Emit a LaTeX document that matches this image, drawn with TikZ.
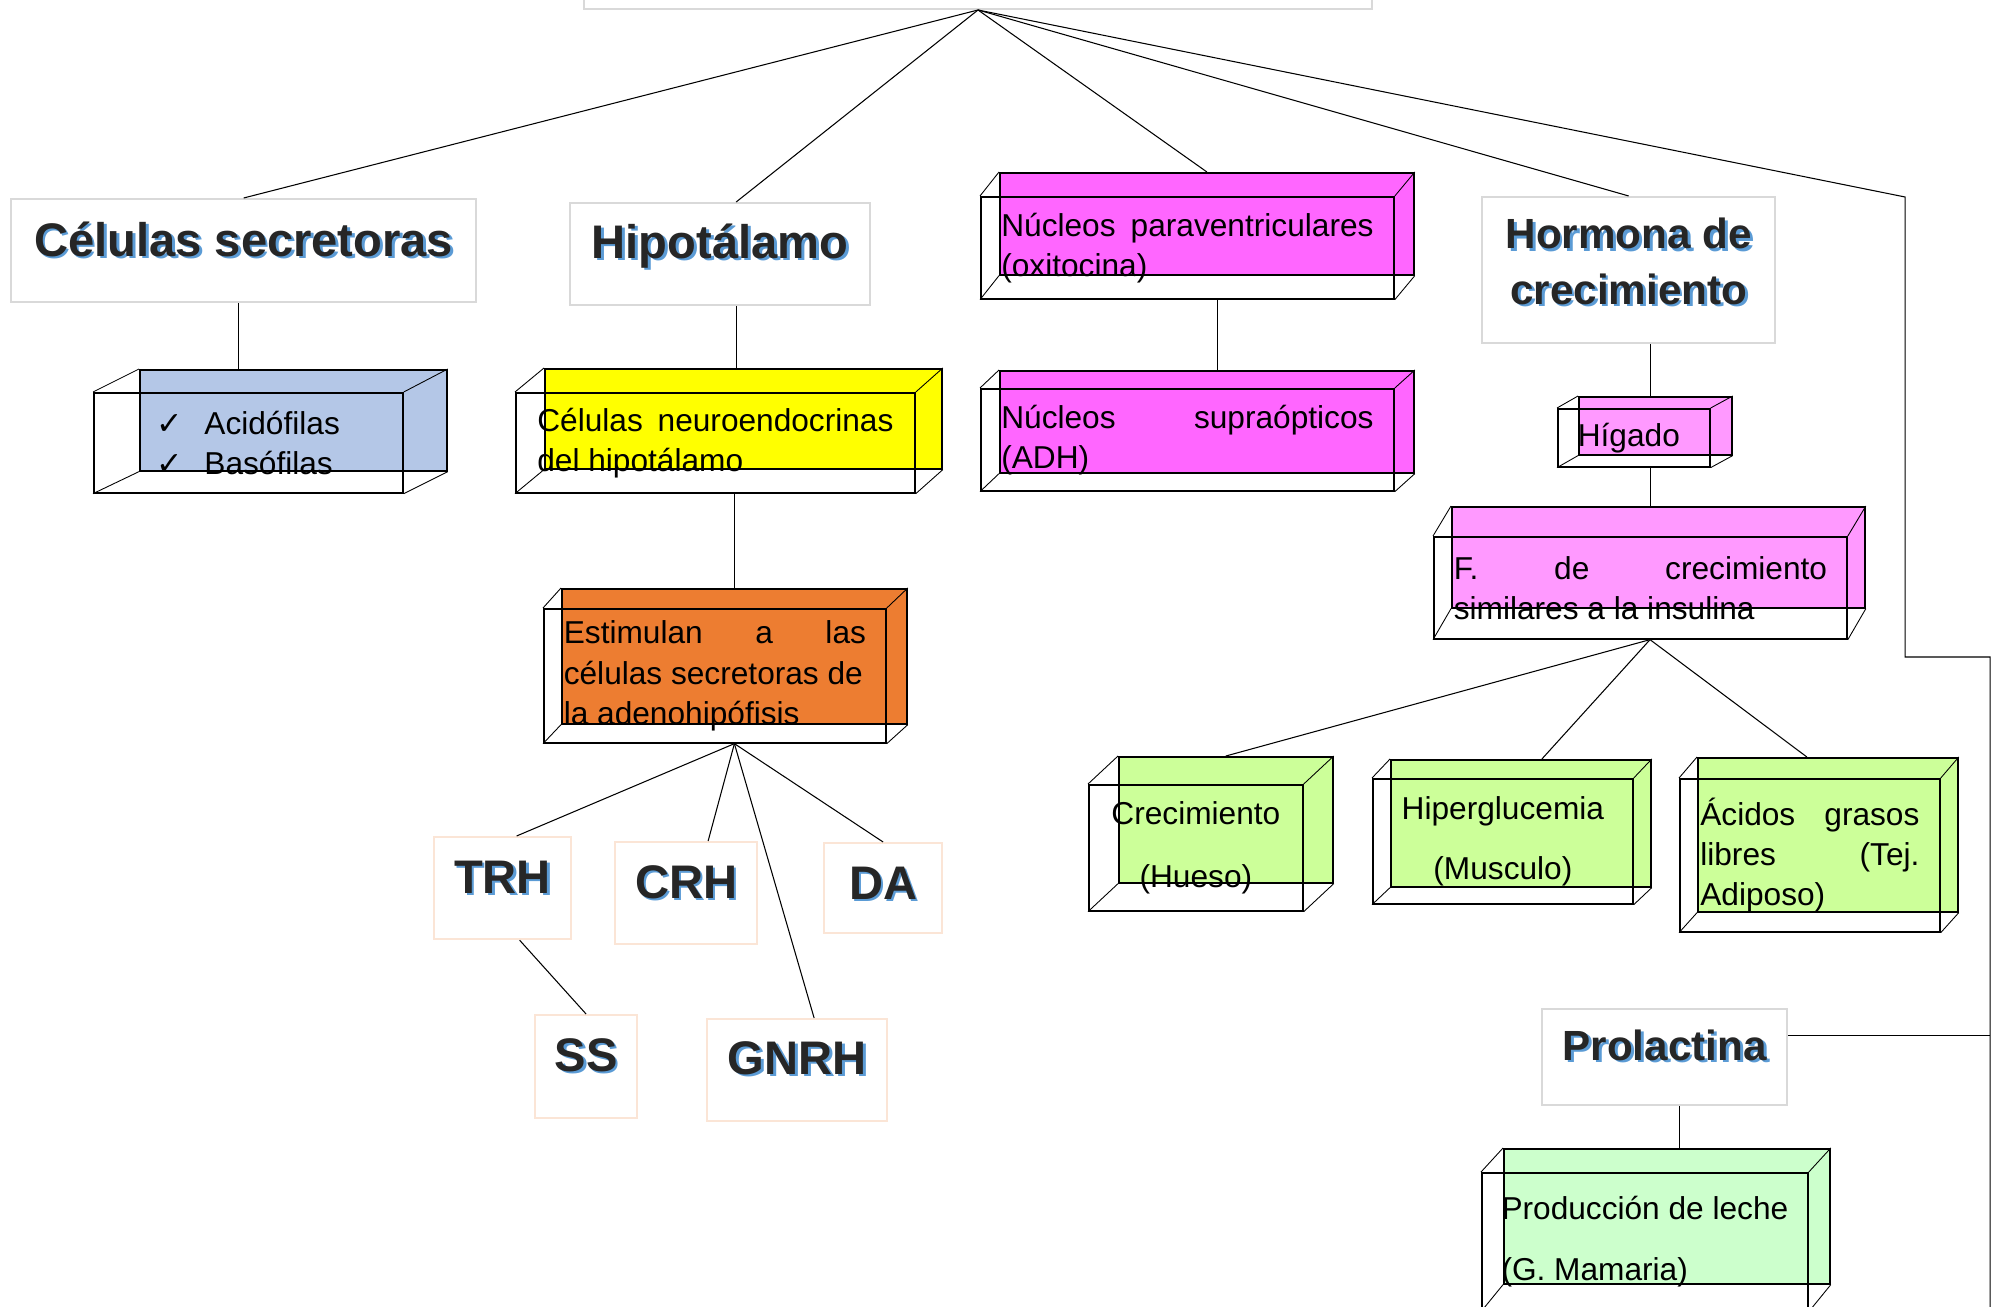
\documentclass[tikz,border=0pt]{standalone}
\usepackage{fontspec}
\setmainfont{Liberation Sans}
\newfontfamily\simbolos{DejaVu Sans}

\definecolor{azul}{HTML}{B4C7E7}
\definecolor{amarillo}{HTML}{FFFF00}
\definecolor{naranja}{HTML}{ED7D31}
\definecolor{magenta}{HTML}{FF66FF}
\definecolor{rosa}{HTML}{FF99FF}
\definecolor{verde}{HTML}{CCFF99}
\definecolor{verdeclaro}{HTML}{CCFFCC}
\definecolor{bordegris}{HTML}{D9D9D9}
\definecolor{bordesalmon}{HTML}{FBE5D6}
\definecolor{sombra}{HTML}{5B9BD5}
\definecolor{tinta}{HTML}{262626}

\newcommand\sombra[1]{\rlap{\kern0.8pt\raisebox{-0.8pt}{\color{sombra}#1}}#1}
\newcommand\tic{\makebox[1.5em][l]{\simbolos\small ✓}}

\begin{document}
\begin{tikzpicture}[x=0.01cm, y=-0.01cm,
    cara/.style={draw, line width=0.45pt, inner sep=0pt, anchor=north west},
    frente/.style={draw, line width=0.45pt, inner sep=0pt, anchor=north west, align=justify, font=\fontsize{9}{11.4}\selectfont},
    arista/.style={line width=0.25pt},
    enlace/.style={line width=0.3pt},
    titulo/.style={draw=bordegris, line width=0.6pt, inner sep=0pt, anchor=north west, text=tinta, font=\fontsize{13.4}{16}\selectfont\bfseries},
    titulomed/.style={titulo, font=\fontsize{12}{15.9}\selectfont\bfseries},
    hormona/.style={titulo, draw=bordesalmon}]
    \useasboundingbox (0,0) rectangle (1998,1307);

    % caja superior (cortada por el borde)
    \node[draw=bordegris, line width=0.6pt, anchor=south, minimum width=7.88cm, minimum height=0.8cm] (raiz) at (978,10) {};

    % titulos
    \node[titulo, minimum width=4.65cm, text height=0.57cm, text depth=0.46cm] (cs) at (10,198) {\sombra{Células secretoras}};
    \node[titulo, minimum width=3.00cm, text height=0.55cm, text depth=0.47cm] (hip) at (569,202) {\sombra{Hipotálamo}};
    \node[titulomed, minimum width=2.93cm, text height=1.07cm, text depth=0.39cm, align=center] (hc) at (1481,196) {\sombra{Hormona de}\\\sombra{crecimiento}};
    \node[titulomed, minimum width=2.45cm, text height=0.51cm, text depth=0.45cm] (pro) at (1541,1008) {\sombra{Prolactina}};

    % hormonas
    \node[hormona, minimum width=1.37cm, text height=0.56cm, text depth=0.46cm] (trh) at (433,836) {\sombra{TRH}};
    \node[hormona, minimum width=1.42cm, text height=0.56cm, text depth=0.46cm] (crh) at (614,841) {\sombra{CRH}};
    \node[hormona, minimum width=1.18cm, text height=0.56cm, text depth=0.34cm] (da) at (823,842) {\sombra{DA}};
    \node[hormona, minimum width=1.02cm, text height=0.56cm, text depth=0.47cm] (ss) at (534,1014) {\sombra{SS}};
    \node[hormona, minimum width=1.80cm, text height=0.55cm, text depth=0.47cm] (gnrh) at (706,1018) {\sombra{GNRH}};

    % caras traseras
    \node[cara, fill=azul, minimum width=3.07cm, minimum height=1.01cm] (acB) at (139,369) {};
    \node[cara, fill=amarillo, minimum width=3.97cm, minimum height=1.00cm] (neB) at (544,368) {};
    \node[cara, fill=naranja, minimum width=3.45cm, minimum height=1.35cm] (esB) at (561,588) {};
    \node[cara, fill=magenta, minimum width=4.14cm, minimum height=1.02cm] (npB) at (999,172) {};
    \node[cara, fill=magenta, minimum width=4.14cm, minimum height=1.02cm] (nsB) at (999,370) {};
    \node[cara, fill=rosa, minimum width=1.53cm, minimum height=0.58cm] (hiB) at (1578,396) {};
    \node[cara, fill=rosa, minimum width=4.13cm, minimum height=1.01cm] (fcB) at (1451,506) {};
    \node[cara, fill=verde, minimum width=2.14cm, minimum height=1.26cm] (crB) at (1118,756) {};
    \node[cara, fill=verde, minimum width=2.60cm, minimum height=1.27cm] (hgB) at (1390,759) {};
    \node[cara, fill=verde, minimum width=2.60cm, minimum height=1.54cm] (agB) at (1697,757) {};
    \node[cara, fill=verdeclaro, minimum width=3.26cm, minimum height=1.35cm] (plB) at (1503,1148) {};

    % caras delanteras
    \node[frente, minimum width=3.09cm, minimum height=1.00cm, align=left] (ac) at (93,392) {\tic Acidófilas\\\tic Basófilas};
    \node[frente, minimum width=3.99cm, minimum height=1.00cm, text width=3.56cm] (ne) at (515,392) {Células\hfill neuroendocrinas\\del hipotálamo};
    \node[frente, minimum width=3.42cm, minimum height=1.34cm, text width=3.02cm] (es) at (543,608) {Estimulan\hfill a\hfill las\\células secretoras de\\la adenohipófisis};
    \node[frente, minimum width=4.13cm, minimum height=1.02cm, text width=3.72cm] (np) at (980,196) {Núcleos\hfill paraventriculares\\(oxitocina)};
    \node[frente, minimum width=4.13cm, minimum height=1.02cm, text width=3.72cm] (ns) at (980,388) {Núcleos\hfill supraópticos\\(ADH)};
    \node[frente, minimum width=1.52cm, minimum height=0.58cm, text width=1.12cm, align=left] (hi) at (1557,408) {Hígado};
    \node[frente, minimum width=4.13cm, minimum height=1.02cm, text width=3.73cm] (fc) at (1433,536) {F.\hfill de\hfill crecimiento\\similares a la insulina};
    \node[frente, minimum width=2.14cm, minimum height=1.26cm, align=center] (cr) at (1088,784) {Crecimiento\\[0.22cm](Hueso)};
    \node[frente, minimum width=2.60cm, minimum height=1.25cm, align=center] (hg) at (1372,778) {Hiperglucemia\\[0.19cm](Musculo)};
    \node[frente, minimum width=2.60cm, minimum height=1.53cm, text width=2.19cm] (ag) at (1679,778) {Ácidos\hfill grasos\\libres\hfill (Tej.\\Adiposo)};
    \node[frente, minimum width=3.26cm, minimum height=1.38cm, align=left] (pl) at (1481,1172) {Producción de leche\\[0.21cm](G. Mamaria)};

    % aristas de las cajas
    \foreach \caja in {ac,ne,es,np,ns,hi,fc,cr,hg,ag,pl}
        \foreach \esq in {north west,north east,south west,south east}
            \draw[arista] (\caja.\esq) -- (\caja B.\esq);

    % conexiones
    \coordinate (c1) at (1905,197);
    \coordinate (c2) at (1990,657);
    \coordinate (c3) at (1990,1310);
    \coordinate (ejeH) at (1650,0);
    \coordinate (esP) at (esB.north |- es.south);
    \coordinate (fcP) at (ejeH |- fc.south);

    \draw[enlace] (raiz.south) -- (cs.north);
    \draw[enlace] (raiz.south) -- ([xshift=0.16cm]hip.north);
    \draw[enlace] (raiz.south) -- (npB.north);
    \draw[enlace] (raiz.south) -- (hc.north);
    \draw[enlace] (raiz.south) -- (c1) |- (c2) -- (c3);
    \draw[enlace] ([yshift=0.22cm]pro.east) -- ([yshift=0.22cm]pro.east -| c2);

    \draw[enlace] ([xshift=-0.05cm]cs.south) -- ([xshift=-0.05cm]cs.south |- acB.north);
    \draw[enlace] ([xshift=0.16cm]hip.south) -- ([xshift=0.16cm]hip.south |- neB.north);
    \draw[enlace] (esB.north |- ne.south) -- (esB.north);
    \draw[enlace] (esP) -- ([xshift=0.14cm]trh.north);
    \draw[enlace] (esP) -- ([xshift=0.22cm]crh.north);
    \draw[enlace] (esP) -- (da.north);
    \draw[enlace] (esP) -- ([xshift=0.17cm]gnrh.north);
    \draw[enlace] ([xshift=0.17cm]trh.south) -- (ss.north);

    \draw[enlace] ([xshift=0.3cm]np.south) -- ([xshift=0.3cm]np.south |- nsB.north);
    \draw[enlace] (ejeH |- hc.south) -- (ejeH |- hiB.north);
    \draw[enlace] (ejeH |- hi.south) -- (ejeH |- fcB.north);
    \draw[enlace] (fcP) -- (crB.north);
    \draw[enlace] (fcP) -- ([xshift=0.21cm]hgB.north);
    \draw[enlace] (fcP) -- ([xshift=-0.21cm]agB.north);
    \draw[enlace] ([xshift=0.15cm]pro.south) -- ([xshift=0.15cm]pro.south |- plB.north);
\end{tikzpicture}
\end{document}
